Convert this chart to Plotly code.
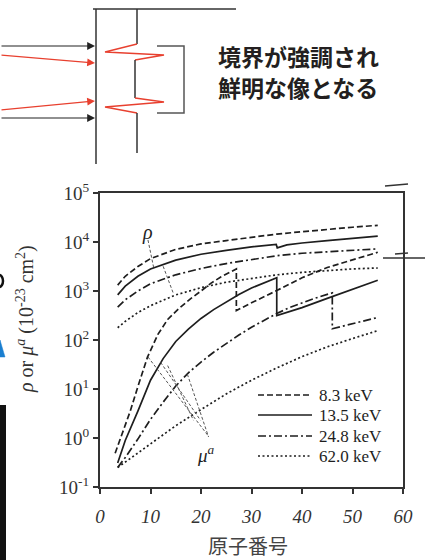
import plotly.graph_objects as go
import numpy as np

W, H = 431, 560
ML, MR, MT, MB = 100, 28, 193, 73
PW, PH = W - ML - MR, H - MT - MB


def px(x):
    return (x - ML) / PW


def py(y):
    return (H - MB - y) / PH


# ---------------- data ----------------
energies = ["8.3 keV", "13.5 keV", "24.8 keV", "62.0 keV"]

# rho (upper group)
z_p = [3.5, 5, 7.5, 10, 15, 20, 25, 30, 35, 40, 45, 50, 55]
p_83 = [1320, 2000, 3160, 4570, 7080, 9120, 10700, 12600, 14500, 16200, 18200, 20000, 21900]
z_p135 = [3.5, 5, 7.5, 10, 15, 20, 25, 30, 34.9, 35.1, 37, 40, 45, 50, 55]
p_135 = [832, 1260, 2000, 2820, 4270, 5620, 6760, 7940, 8910, 7590, 8710, 9550, 10700, 12000, 13200]
p_248 = [468, 661, 1000, 1410, 2140, 2880, 3630, 4370, 5250, 5890, 6310, 6760, 7240]
p_620 = [178, 240, 363, 501, 832, 1170, 1510, 1820, 2140, 2400, 2630, 2820, 2950]

# mu^a (lower group, with absorption edges)
z_m83 = [3, 4.5, 6, 7.5, 9.4, 11.5, 13.4, 15.5, 17.9, 20, 22, 24, 26, 27, 27, 30, 35, 40, 45, 50, 55]
m_83 = [0.49, 1.26, 3.55, 11.2, 44.7, 132, 263, 427, 692, 1000, 1450, 1950, 2510, 2820,
        398, 575, 1020, 1860, 3020, 4370, 6170]
z_m135 = [3.5, 5, 7.5, 10, 12.5, 15, 17.5, 20, 22.5, 25, 27.5, 30, 32.5, 35, 35, 40, 45, 50, 55]
m_135 = [0.31, 0.89, 3.55, 15.1, 41.7, 93.3, 166, 275, 417, 603, 851, 1150, 1480, 1860,
         316, 457, 708, 1100, 1660]
z_m248 = [3.5, 5, 7.5, 10, 12.5, 15, 17.5, 20, 22.5, 25, 27.5, 30, 32.5, 35, 37.5, 40, 42.5, 45, 46, 46, 50, 55]
m_248 = [0.25, 0.40, 0.95, 2.40, 5.37, 11.5, 21.4, 35.5, 56.2, 85.1, 126, 182, 251, 347,
         457, 575, 708, 851, 912, 170, 214, 288]
z_m620 = [3.5, 7.5, 10, 15, 20, 25, 30, 35, 40, 45, 50, 55]
m_620 = [0.25, 0.50, 0.76, 1.78, 3.80, 7.94, 15.1, 26.9, 45.7, 72.4, 107, 155]

# leader lines for the curve labels
rho_label = (9.4, 15800)
mu_label = (21.0, 0.47)
rho_leaders = [((9.5, 11000), (10.6, 3100)), ((12.5, 3200), (14.5, 910))]
mu_leaders = [((9.5, 45), (21.3, 1.15)), ((12, 35), (19.9, 2.3)),
              ((13.4, 30), (18.5, 2.3)), ((17.3, 20), (21.5, 1.05))]

x_ticks = [0, 10, 20, 30, 40, 50, 60]
y_ticks = [0.1, 1, 10, 100, 1000, 10000, 100000]
y_ticktext = ["10<sup>-1</sup>", "10<sup>0</sup>", "10<sup>1</sup>", "10<sup>2</sup>",
              "10<sup>3</sup>", "10<sup>4</sup>", "10<sup>5</sup>"]

# ---------------- figure ----------------
INK = "#1e1e1e"
LW = 1.7
dashes = ["6px,3px", "solid", "8px,3px,2px,3px", "2px,2.5px"]
p_series = [(z_p, p_83), (z_p135, p_135), (z_p, p_248), (z_p, p_620)]
m_series = [(z_m83, m_83), (z_m135, m_135), (z_m248, m_248), (z_m620, m_620)]

fig = go.Figure()
for i, name in enumerate(energies):
    zx, vy = m_series[i]
    fig.add_trace(go.Scatter(x=zx, y=vy, mode="lines", name=name, showlegend=False,
                             line=dict(color=INK, width=LW, dash=dashes[i])))
for i, name in enumerate(energies):
    zx, vy = p_series[i]
    fig.add_trace(go.Scatter(x=zx, y=vy, mode="lines", name=name, showlegend=False,
                             line=dict(color=INK, width=LW, dash=dashes[i])))
for (a, b) in rho_leaders + mu_leaders:
    fig.add_trace(go.Scatter(x=[a[0], b[0]], y=[a[1], b[1]], mode="lines", showlegend=False,
                             hoverinfo="skip", line=dict(color="#555555", width=1, dash="3px,2px")))

serif = "Liberation Serif"
fig.update_layout(
    width=W, height=H,
    margin=dict(l=ML, r=MR, t=MT, b=MB, pad=0),
    paper_bgcolor="white", plot_bgcolor="white",
    showlegend=False,
    xaxis=dict(range=[0, 60], tickvals=x_ticks, showgrid=False, zeroline=False,
               showline=True, linecolor="#333", linewidth=2, mirror=True,
               ticks="outside", ticklen=5, tickwidth=1.5, tickcolor="#333",
               ticklabelstandoff=6, automargin=False,
               tickfont=dict(family=serif, size=19, color="#333", style="italic")),
    yaxis=dict(type="log", range=[-1, 5], tickvals=y_ticks, ticktext=y_ticktext,
               showgrid=False, zeroline=False,
               showline=True, linecolor="#333", linewidth=2, mirror=True,
               ticks="outside", ticklen=5, tickwidth=1.5, tickcolor="#333",
               automargin=False,
               tickfont=dict(family=serif, size=19, color="#333")),
)

ann = []
ann.append(dict(x=rho_label[0], y=np.log10(rho_label[1]), xref="x", yref="y",
                xanchor="center", yanchor="middle",
                text="<i>ρ</i>", showarrow=False,
                font=dict(family=serif, size=20, color=INK)))
ann.append(dict(x=mu_label[0], y=np.log10(mu_label[1]), xref="x", yref="y",
                xanchor="center", yanchor="middle",
                text="<i>μ<sup>a</sup></i>", showarrow=False,
                font=dict(family=serif, size=19, color=INK)))
# axis titles
ann.append(dict(x=px(25), y=py(319), xref="paper", yref="paper", textangle=-90,
                xanchor="center", yanchor="middle",
                text="<i>ρ</i> or <i>μ<sup>a</sup></i> (10<sup>-23</sup> cm<sup>2</sup>)",
                showarrow=False, font=dict(family=serif, size=20, color="#333")))
ann.append(dict(x=px(248), y=py(545), xref="paper", yref="paper",
                xanchor="center", yanchor="middle",
                text="原子番号", showarrow=False,
                font=dict(family="Noto Sans CJK JP", size=20, color="#444")))
# top diagram text
ann.append(dict(x=px(216), y=py(56), xref="paper", yref="paper", xanchor="left",
                yanchor="middle", text="<b>境界が強調され</b>", showarrow=False,
                font=dict(family="Noto Sans CJK JP", size=23, color="#231f20")))
ann.append(dict(x=px(216), y=py(87), xref="paper", yref="paper", xanchor="left",
                yanchor="middle", text="<b>鮮明な像となる</b>", showarrow=False,
                font=dict(family="Noto Sans CJK JP", size=23, color="#231f20")))
# arrows of the diagram
RED = "#e8402f"
for (hx, hy, tx, ty, col) in [(95, 46, 0, 46, "#222"), (95, 63, 0, 55, RED),
                              (95, 101, 0, 110, RED), (95, 118, 0, 118, "#222")]:
    ann.append(dict(x=px(hx), y=py(hy), xref="paper", yref="paper", text="",
                    showarrow=True, ax=tx - hx, ay=ty - hy, arrowhead=2,
                    arrowsize=1.3, arrowwidth=1.2, arrowcolor=col, standoff=0))

# manual legend (text)
leg_rows = [395, 415, 436, 456]
for name, ry in zip(energies, leg_rows):
    ann.append(dict(x=px(317), y=py(ry), xref="paper", yref="paper", xanchor="left",
                    yanchor="middle", text=name, showarrow=False,
                    font=dict(family=serif, size=17, color=INK)))
fig.update_layout(annotations=ann)


def seg(x0, y0, x1, y1, color="#333", width=1.5, dash="solid"):
    return dict(type="line", xref="paper", yref="paper", x0=px(x0), y0=py(y0),
                x1=px(x1), y1=py(y1), line=dict(color=color, width=width, dash=dash))


def path(pts, color, width=1.5, fill=None, closed=False):
    d = "M " + " L ".join(f"{px(a)},{py(b)}" for a, b in pts)
    if closed:
        d += " Z"
    return dict(type="path", xref="paper", yref="paper", path=d,
                line=dict(color=color, width=width),
                fillcolor=fill if fill else "rgba(0,0,0,0)")


shapes = [
    seg(93, 9, 236, 9), seg(96, 9, 96, 164), seg(137, 9, 137, 44),
    path([(137, 44), (105, 52), (164, 55), (135, 60)], RED, 1.3),
    seg(135, 60, 135, 98),
    path([(135, 98), (164, 102), (105, 107), (137, 113)], RED, 1.3),
    seg(137, 113, 137, 153),
    path([(157, 46), (184, 46), (184, 113), (157, 113)], "#555", 1.5),
    # left-edge fragments
    dict(type="rect", xref="paper", yref="paper", x0=px(0), x1=px(6), y0=py(405), y1=py(560),
         fillcolor="#111", line=dict(width=0)),
    path([(0, 340), (5, 357), (0, 357)], "#1a7fd0", 0.5, fill="#1a7fd0", closed=True),
    dict(type="circle", xref="paper", yref="paper", x0=px(-5), x1=px(3), y0=py(287), y1=py(275),
         line=dict(color="#111", width=2.5)),
    # axis break marks
    seg(385, 186, 408, 184, "#333", 1.5),
    seg(383, 258, 425, 258, "#333", 1.3),
    seg(395, 254, 408, 253, "#333", 1.3),
]
# manual legend samples
for d, ry in zip(dashes, leg_rows):
    shapes.append(seg(258, ry, 312, ry, INK, LW, d))
fig.update_layout(shapes=shapes)

fig.write_html("out.html", config={"displayModeBar": False},
               post_script="document.body.style.margin='0px';")
